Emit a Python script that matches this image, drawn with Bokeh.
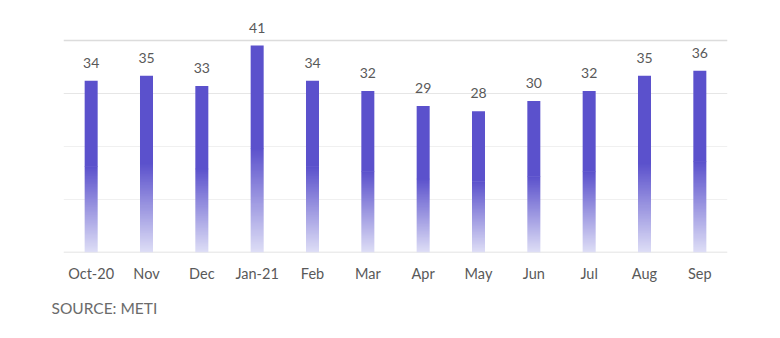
import numpy as np
from bokeh.plotting import figure
from bokeh.models import Span, Title, ColumnDataSource, FixedTicker
from bokeh.core.properties import value
from bokeh.embed import file_html
from bokeh.resources import INLINE

months = ["Oct-20", "Nov", "Dec", "Jan-21", "Feb", "Mar", "Apr", "May", "Jun", "Jul", "Aug", "Sep"]
values = [34, 35, 33, 41, 34, 32, 29, 28, 30, 32, 35, 36]
grid_ticks = [0, 10.5, 21, 31.5, 42]
grid_colors = ["#d9d9d9", "#f0f0f0", "#f0f0f0", "#e6e6e6", "#dcdcdc"]
source_text = "SOURCE: METI"

FONT = "Lato"
TOP = np.array([91, 81, 204])
BOTTOM = np.array([222, 222, 246])
BAR_W = 0.235
FADE = 0.5
N = 120

xpos = np.arange(len(months))
vals = np.array(values, dtype=float)

p = figure(x_range=(-0.5, len(months) - 0.5), y_range=(0, 46.95), width=780, height=338,
           output_backend="svg", toolbar_location=None,
           min_border_left=63, min_border_right=53, min_border_top=15, min_border_bottom=86)
p.outline_line_color = None
p.background_fill_color = "white"
p.border_fill_color = "white"
p.yaxis.visible = False
p.xgrid.visible = False
p.ygrid.visible = False

for t, c in zip(grid_ticks, grid_colors):
    p.add_layout(Span(location=t, dimension="width", line_color=c, level="underlay",
                      line_width=1.5 if t in (0, 42) else 1))

top_hex = "#%02x%02x%02x" % tuple(TOP)
# solid upper part of each bar
p.vbar(x=xpos, bottom=vals * FADE, top=vals, width=BAR_W, fill_color=top_hex, line_color=None)

# gradient lower part of each bar as a 1-column image
grad = np.empty((N, 1), dtype=np.uint32)
view = grad.view(dtype=np.uint8).reshape((N, 1, 4))
for i in range(N):
    f = i / (N - 1)
    c = BOTTOM + (TOP - BOTTOM) * f
    view[i, 0, 0] = int(round(c[0]))
    view[i, 0, 1] = int(round(c[1]))
    view[i, 0, 2] = int(round(c[2]))
    view[i, 0, 3] = 255
p.image_rgba(image=[grad] * len(months), x=xpos - BAR_W / 2, y=[0] * len(months),
             dw=[BAR_W] * len(months), dh=vals * FADE + 0.1)

src = ColumnDataSource(dict(x=xpos, y=values, t=[str(v) for v in values]))
p.text(x="x", y="y", text="t", source=src, text_align="center", text_baseline="bottom",
       y_offset=-13, text_font=value(FONT), text_font_size="14px", text_color="#595959")

ax = p.xaxis[0]
ax.ticker = FixedTicker(ticks=list(xpos))
ax.major_label_overrides = {int(i): m for i, m in zip(xpos, months)}
ax.axis_line_color = None
ax.major_tick_line_color = None
ax.minor_tick_line_color = None
ax.major_label_standoff = 6
ax.major_label_text_font = FONT
ax.major_label_text_font_size = "14.5px"
ax.major_label_text_color = "#595959"

p.add_layout(Title(text=source_text, align="left", offset=-12, text_font=FONT,
                   text_font_size="15.5px", text_font_style="normal", text_color="#6b6b6b",
                   standoff=25), "below")

open("out.html", "w").write(file_html(p, INLINE))
